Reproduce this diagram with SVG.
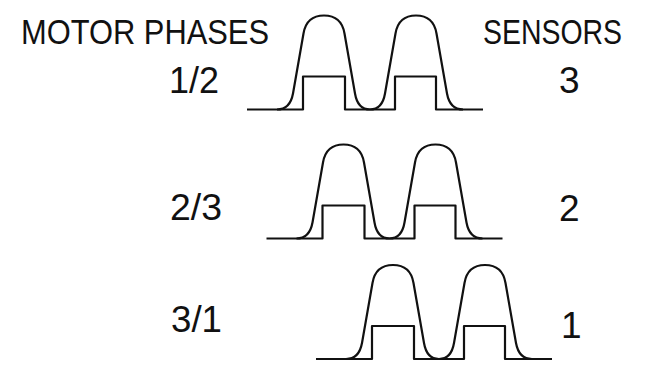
<svg xmlns="http://www.w3.org/2000/svg" xmlns:xlink="http://www.w3.org/1999/xlink" width="654" height="371" viewBox="0 0 654 371">
<style>
.t{font-family:"Liberation Sans",Arial,sans-serif;fill:#111;}
.h{font-size:35px;}
.n{font-size:37px;}
.w{fill:none;stroke:#111;stroke-width:2.2;stroke-linejoin:round;stroke-linecap:butt;}
</style>
<defs>
<g id="wave">
<path class="w" d="M-77,0 H-21 V-33 H21 V0 H71 V-33 H112 V0 H159"/>
<path class="w" d="M-47,0 C-38,0 -33,-5 -31,-16 L-20.5,-76 C-18.5,-88 -12,-94 0,-94 C12,-94 18.5,-88 20.5,-76 L31,-16 C32.7,-6 38,0 46,0 C54,0 59.3,-6 61,-16 L71.5,-76 C73.5,-88 80,-94 92,-94 C104,-94 110.5,-88 112.5,-76 L123,-16 C125,-5 130,0 139,0"/>
</g>
</defs>
<g id="labels">
<text class="t h" x="21" y="44" textLength="248" lengthAdjust="spacingAndGlyphs">MOTOR PHASES</text>
<text class="t h" x="483" y="43.5" textLength="139" lengthAdjust="spacingAndGlyphs">SENSORS</text>
</g>
<g id="row1">
<use xlink:href="#wave" transform="translate(324,109.5)"/>
<text class="t n" x="169" y="93.3" textLength="50" lengthAdjust="spacingAndGlyphs">1/2</text>
<text class="t n" x="559" y="93.3">3</text>
</g>
<g id="row2">
<use xlink:href="#wave" transform="translate(343.5,238.5)"/>
<text class="t n" x="170" y="219.5" textLength="52" lengthAdjust="spacingAndGlyphs">2/3</text>
<text class="t n" x="559" y="220.7">2</text>
</g>
<g id="row3">
<use xlink:href="#wave" transform="translate(393,359)"/>
<text class="t n" x="171" y="331.7" textLength="51" lengthAdjust="spacingAndGlyphs">3/1</text>
<text class="t n" x="561" y="338.3">1</text>
</g>
</svg>
